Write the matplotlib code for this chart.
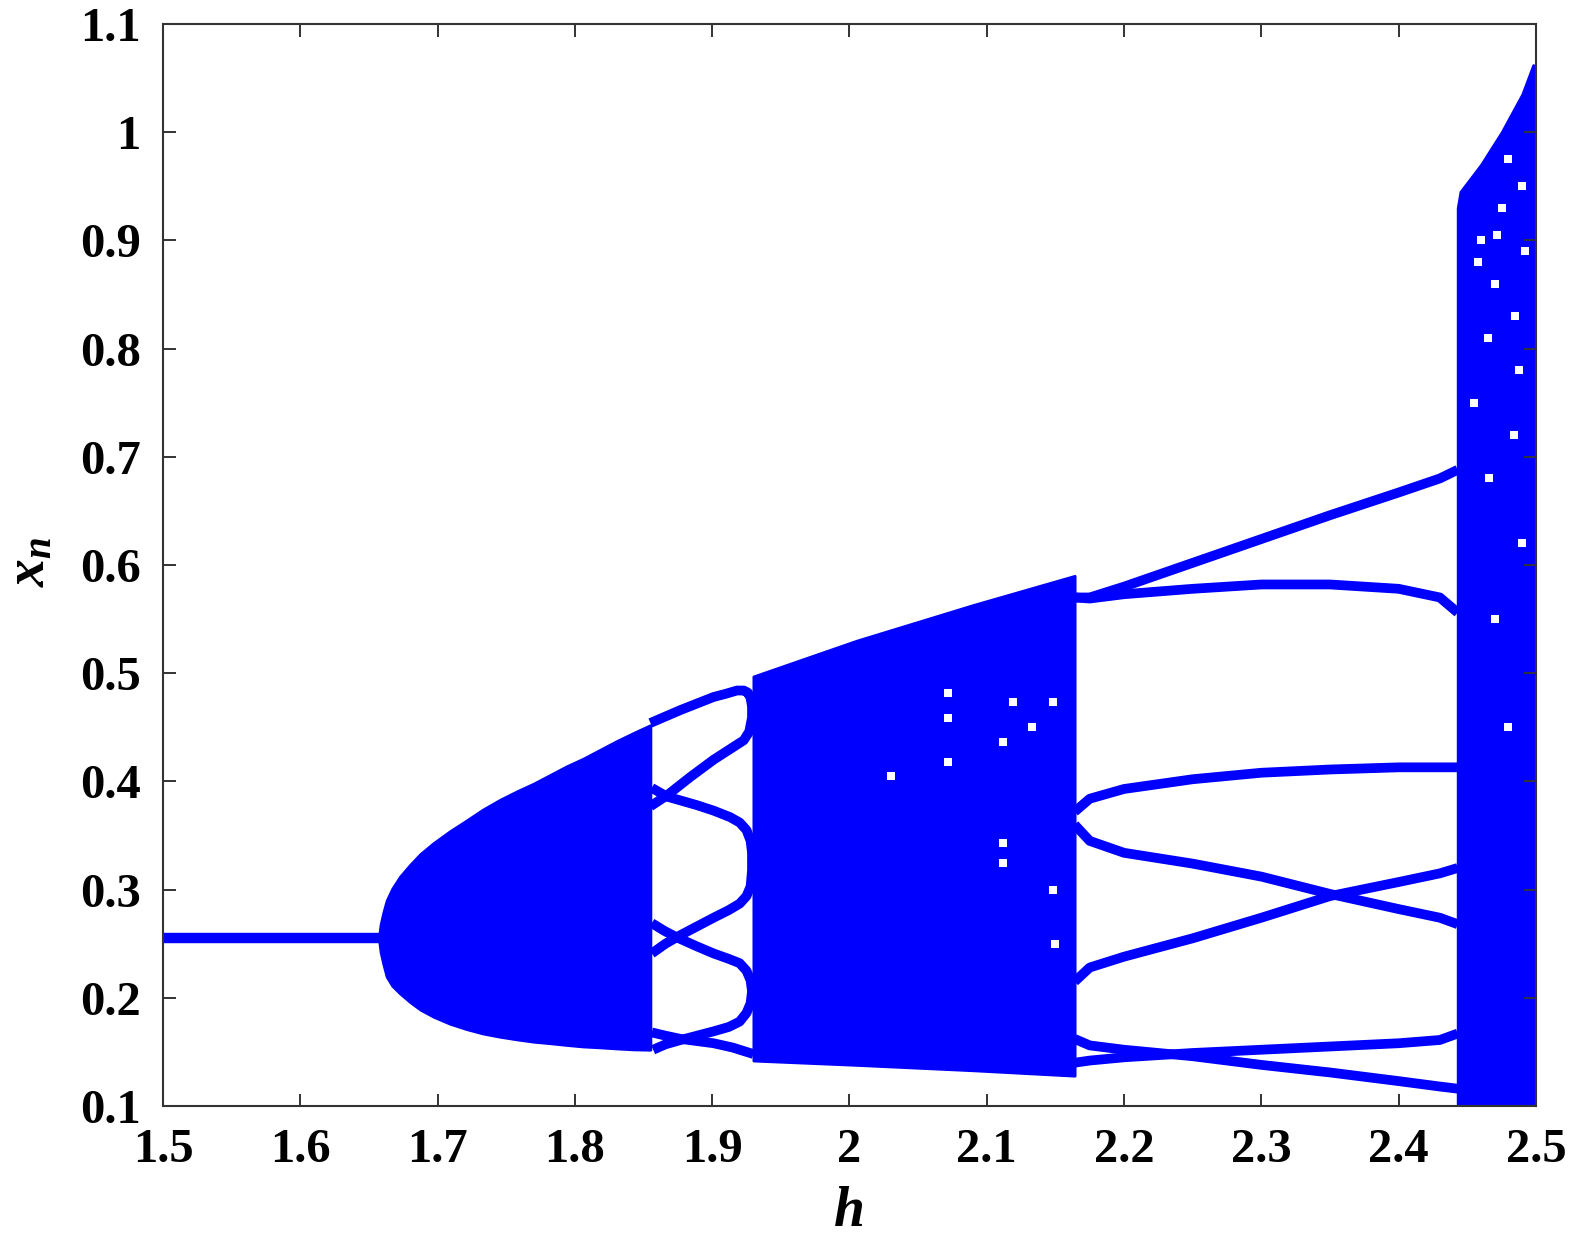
import matplotlib
matplotlib.use('Agg')
import matplotlib.pyplot as plt

plt.rcParams['font.family'] = ['Liberation Serif', 'DejaVu Serif']
plt.rcParams['font.weight'] = 'bold'
plt.rcParams['mathtext.fontset'] = 'custom'
plt.rcParams['mathtext.it'] = 'Liberation Serif:italic:bold'
plt.rcParams['mathtext.rm'] = 'Liberation Serif:bold'

BLUE = '#0000ff'

# fixed point before the first band
fixed_h = [1.5, 1.658]
fixed_x = [0.255, 0.255]

# chaotic band 1 (envelopes)
band1_h = [1.6572, 1.6585, 1.6605, 1.6629, 1.667, 1.6726, 1.680, 1.6875, 1.697, 1.709, 1.7212,
           1.733, 1.7454, 1.758, 1.770, 1.782, 1.794, 1.806, 1.818, 1.830, 1.843, 1.855]
band1_hi = [0.255, 0.268, 0.279, 0.290, 0.301, 0.312, 0.323, 0.333, 0.343, 0.354, 0.364,
            0.374, 0.383, 0.391, 0.398, 0.406, 0.414, 0.421, 0.429, 0.437, 0.445, 0.452]
band1_lo = [0.255, 0.242, 0.231, 0.2195, 0.211, 0.204, 0.196, 0.189, 0.1825, 0.176, 0.171,
            0.167, 0.164, 0.1615, 0.1594, 0.158, 0.1564, 0.155, 0.1542, 0.1532, 0.1523, 0.152]

# periodic window 1.855 - 1.93
w1_top_h = [1.855, 1.866, 1.877, 1.889, 1.901, 1.910, 1.918, 1.923, 1.926, 1.928, 1.929, 1.929,
            1.927, 1.923, 1.912, 1.901, 1.884, 1.867, 1.855]
w1_top_x = [0.454, 0.460, 0.466, 0.472, 0.478, 0.481, 0.484, 0.484, 0.482, 0.477, 0.469, 0.459,
            0.446, 0.438, 0.429, 0.420, 0.404, 0.387, 0.377]
w1_mid_h = [1.856, 1.867, 1.878, 1.889, 1.901, 1.913, 1.920, 1.925, 1.928, 1.929, 1.929, 1.928,
            1.925, 1.920, 1.912, 1.901, 1.889, 1.877, 1.866, 1.856]
w1_mid_x = [0.394, 0.386, 0.382, 0.378, 0.373, 0.367, 0.362, 0.355, 0.345, 0.334, 0.318, 0.303,
            0.294, 0.287, 0.281, 0.274, 0.266, 0.258, 0.250, 0.241]
w1_low_h = [1.856, 1.865, 1.874, 1.888, 1.901, 1.912, 1.920, 1.925, 1.928, 1.929, 1.928, 1.925,
            1.920, 1.912, 1.901, 1.889, 1.877, 1.866, 1.857]
w1_low_x = [0.269, 0.262, 0.256, 0.248, 0.241, 0.236, 0.232, 0.225, 0.216, 0.206, 0.195, 0.186,
            0.178, 0.173, 0.169, 0.165, 0.161, 0.157, 0.152]
w1_bot_h = [1.856, 1.866, 1.877, 1.889, 1.901, 1.915, 1.930]
w1_bot_x = [0.168, 0.165, 0.162, 0.160, 0.158, 0.154, 0.148]

# chaotic band 2
band2_h = [1.930, 2.005, 2.090, 2.164]
band2_hi = [0.497, 0.530, 0.563, 0.590]
band2_lo = [0.142, 0.138, 0.133, 0.128]

# periodic window 2.164 - 2.443 (seven branches)
w2_h = [2.164, 2.175, 2.20, 2.25, 2.30, 2.35, 2.40, 2.43, 2.443]
w2_p = [0.570, 0.570, 0.580, 0.602, 0.624, 0.646, 0.667, 0.680, 0.688]
w2_q = [0.570, 0.569, 0.573, 0.578, 0.582, 0.582, 0.578, 0.570, 0.556]
w2_r = [0.372, 0.384, 0.393, 0.402, 0.408, 0.411, 0.413, 0.413, 0.413]
w2_s = [0.360, 0.345, 0.334, 0.324, 0.312, 0.296, 0.282, 0.274, 0.268]
w2_t = [0.215, 0.228, 0.238, 0.255, 0.274, 0.294, 0.307, 0.315, 0.320]
w2_u = [0.140, 0.142, 0.145, 0.149, 0.152, 0.155, 0.158, 0.161, 0.167]
w2_v = [0.162, 0.156, 0.152, 0.146, 0.138, 0.131, 0.123, 0.118, 0.116]

# chaotic band 3
band3_h = [2.443, 2.445, 2.460, 2.475, 2.490, 2.498, 2.500]
band3_hi = [0.930, 0.945, 0.970, 1.000, 1.035, 1.062, 1.060]
band3_lo = [0.102, 0.102, 0.102, 0.102, 0.102, 0.102, 0.102]

# gaps inside the chaotic bands
gap_h = [2.072, 2.072, 2.112, 2.119, 2.133, 2.148, 2.072, 2.112, 2.112, 2.148, 2.150, 2.030,
         2.470, 2.485, 2.460, 2.490, 2.475, 2.480, 2.465, 2.490, 2.470, 2.480, 2.455, 2.488,
         2.458, 2.472, 2.492, 2.466, 2.484]
gap_x = [0.482, 0.459, 0.436, 0.473, 0.450, 0.473, 0.418, 0.343, 0.325, 0.300, 0.250, 0.405,
         0.860, 0.830, 0.900, 0.950, 0.930, 0.975, 0.810, 0.620, 0.550, 0.450, 0.750, 0.780,
         0.880, 0.905, 0.890, 0.680, 0.720]

xticks = [1.5, 1.6, 1.7, 1.8, 1.9, 2.0, 2.1, 2.2, 2.3, 2.4, 2.5]
xtick_labels = ['1.5', '1.6', '1.7', '1.8', '1.9', '2', '2.1', '2.2', '2.3', '2.4', '2.5']
yticks = [0.1, 0.2, 0.3, 0.4, 0.5, 0.6, 0.7, 0.8, 0.9, 1.0, 1.1]
ytick_labels = ['0.1', '0.2', '0.3', '0.4', '0.5', '0.6', '0.7', '0.8', '0.9', '1', '1.1']

fig = plt.figure(figsize=(15.75, 12.37), dpi=100)
ax = fig.add_axes([0.1035, 0.1059, 0.8717, 0.8747])

ax.fill_between(band1_h, band1_lo, band1_hi, color=BLUE, lw=2)
ax.fill_between(band2_h, band2_lo, band2_hi, color=BLUE, lw=2)
ax.fill_between(band3_h, band3_lo, band3_hi, color=BLUE, lw=2)

lw = 7.5
ax.plot(fixed_h, fixed_x, color=BLUE, lw=lw, solid_capstyle='butt')
for hh, xx in [(w1_top_h, w1_top_x), (w1_mid_h, w1_mid_x), (w1_low_h, w1_low_x), (w1_bot_h, w1_bot_x)]:
    ax.plot(hh, xx, color=BLUE, lw=7, solid_capstyle='butt', solid_joinstyle='round')
for xx in [w2_p, w2_q, w2_r, w2_s, w2_t, w2_u, w2_v]:
    ax.plot(w2_h, xx, color=BLUE, lw=7, solid_capstyle='butt', solid_joinstyle='round')

ax.scatter(gap_h, gap_x, s=30, color='white', marker='s', lw=0, zorder=3)

ax.set_xlim(1.5, 2.5)
ax.set_ylim(0.1, 1.1)
ax.set_xticks(xticks)
ax.set_xticklabels(xtick_labels)
ax.set_yticks(yticks)
ax.set_yticklabels(ytick_labels)
ax.tick_params(direction='in', length=9, width=1.4, color='#333333', top=True, right=True,
               labelsize=35)
ax.tick_params(axis='x', pad=16)
ax.tick_params(axis='y', pad=16)
for sp in ax.spines.values():
    sp.set_color('#333333')
    sp.set_linewidth(1.5)

fig.text(848 / 1575, 1 - 1212 / 1237, r'$h$', fontsize=40, ha='center', va='center')
fig.text(30 / 1575, 1 - 562 / 1237, r'$x_n$', fontsize=40, ha='center', va='center', rotation=90)

fig.savefig('out.png', dpi=100)
